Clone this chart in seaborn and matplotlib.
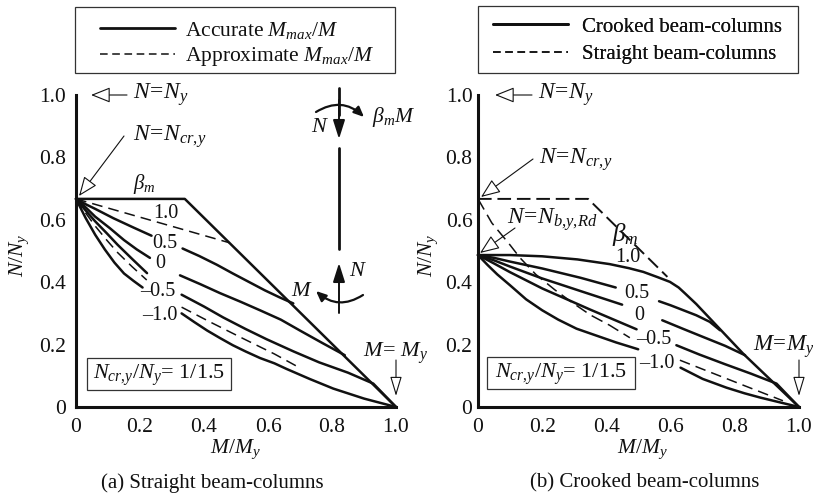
import matplotlib
matplotlib.use("Agg")
import matplotlib.pyplot as plt
from matplotlib.lines import Line2D
from matplotlib.patches import Rectangle
import seaborn as sns

sns.set_theme(style="white")
plt.rcParams.update({
    "font.family": ["Liberation Serif", "DejaVu Serif"],
    "mathtext.fontset": "custom",
    "mathtext.rm": "Liberation Serif",
    "mathtext.it": "Liberation Serif:italic",
    "mathtext.bf": "Liberation Serif:bold",
    "text.color": "#111111",
})

INK = "#111111"
W, H = 813, 497

# ---------- tick data ----------
x_ticks = [0, 0.2, 0.4, 0.6, 0.8, 1.0]
y_ticks = [0, 0.2, 0.4, 0.6, 0.8, 1.0]
tick_labels = ["0", "0.2", "0.4", "0.6", "0.8", "1.0"]

# ---------- panel (a) ----------
a_env_x = [0, 0.34, 1.0]
a_env_y = [0.667, 0.667, 0]
a_b10_x1 = [0, 0.03, 0.06, 0.117, 0.18, 0.236]
a_b10_y1 = [0.667, 0.65, 0.635, 0.605, 0.575, 0.549]
a_b10_x2 = [0.333, 0.385, 0.44, 0.49, 0.54, 0.59, 0.635, 0.679]
a_b10_y2 = [0.508, 0.484, 0.456, 0.428, 0.401, 0.374, 0.352, 0.332]
a_b05_x1 = [0, 0.03, 0.06, 0.106, 0.15, 0.19, 0.231]
a_b05_y1 = [0.667, 0.64, 0.61, 0.573, 0.535, 0.505, 0.478]
a_b05_x2 = [0.325, 0.39, 0.45, 0.515, 0.575, 0.64, 0.7, 0.77, 0.84]
a_b05_y2 = [0.422, 0.393, 0.365, 0.337, 0.31, 0.28, 0.245, 0.205, 0.166]
a_b00_x1 = [0, 0.03, 0.06, 0.096, 0.13, 0.175, 0.222]
a_b00_y1 = [0.667, 0.63, 0.595, 0.557, 0.52, 0.475, 0.429]
a_b00_x2 = [0.33, 0.40, 0.46, 0.53, 0.596, 0.68, 0.76, 0.85, 0.929, 1.0]
a_b00_y2 = [0.36, 0.322, 0.287, 0.25, 0.217, 0.178, 0.143, 0.11, 0.075, 0]
a_bm10_x1 = [0, 0.03, 0.06, 0.09, 0.12, 0.15, 0.18, 0.208]
a_bm10_y1 = [0.667, 0.606, 0.552, 0.505, 0.463, 0.428, 0.404, 0.383]
a_bm10_x2 = [0.33, 0.37, 0.41, 0.45, 0.49, 0.53, 0.575, 0.62, 0.658, 0.73, 0.804, 0.9, 1.0]
a_bm10_y2 = [0.30, 0.272, 0.245, 0.221, 0.198, 0.178, 0.157, 0.14, 0.122, 0.09, 0.059, 0.027, 0]
a_app1_x = [0, 0.481]
a_app1_y = [0.667, 0.526]
a_app2_x1 = [0, 0.03, 0.06, 0.096, 0.13, 0.175, 0.221]
a_app2_y1 = [0.667, 0.622, 0.58, 0.535, 0.495, 0.45, 0.407]
a_app2_x2 = [0.33, 0.42, 0.523, 0.62, 0.70]
a_app2_y2 = [0.32, 0.272, 0.219, 0.17, 0.125]

# ---------- panel (b) ----------
b_env_x1 = [0, 0.343, 0.59]
b_env_y1 = [0.667, 0.667, 0.417]
b_s1_x = [0, 0.043, 0.1, 0.131, 0.18, 0.24, 0.296, 0.35, 0.41, 0.473]
b_s1_y = [0.667, 0.59, 0.519, 0.478, 0.425, 0.375, 0.333, 0.295, 0.262, 0.222]
b_s2_x = [0.629, 0.72, 0.826, 0.95]
b_s2_y = [0.15, 0.113, 0.07, 0.02]
b_c1_x = [0, 0.1, 0.2, 0.31, 0.41, 0.47, 0.515, 0.56, 0.598, 0.625, 0.645, 0.68, 0.826, 1.0]
b_c1_y = [0.487, 0.487, 0.483, 0.473, 0.458, 0.445, 0.433, 0.416, 0.401, 0.383, 0.364, 0.33, 0.171, 0]
b_c2_x1 = [0, 0.05, 0.1, 0.2, 0.32, 0.429]
b_c2_y1 = [0.487, 0.478, 0.466, 0.444, 0.414, 0.383]
b_c2_x2 = [0.564, 0.6, 0.64, 0.68, 0.722, 0.754]
b_c2_y2 = [0.339, 0.326, 0.31, 0.294, 0.273, 0.246]
b_c3_x1 = [0, 0.05, 0.1, 0.2, 0.33, 0.449]
b_c3_y1 = [0.487, 0.47, 0.45, 0.412, 0.368, 0.328]
b_c3_x2 = [0.574, 0.64, 0.70, 0.77, 0.832]
b_c3_y2 = [0.278, 0.25, 0.225, 0.196, 0.166]
b_c4_x1 = [0, 0.05, 0.1, 0.2, 0.35, 0.494]
b_c4_y1 = [0.487, 0.46, 0.432, 0.38, 0.312, 0.249]
b_c4_x2 = [0.618, 0.69, 0.77, 0.85, 0.93, 1.0]
b_c4_y2 = [0.198, 0.168, 0.137, 0.107, 0.075, 0]
b_c5_x1 = [0, 0.03, 0.06, 0.1, 0.15, 0.2, 0.25, 0.307, 0.36, 0.43, 0.499]
b_c5_y1 = [0.487, 0.455, 0.425, 0.39, 0.345, 0.31, 0.28, 0.251, 0.232, 0.207, 0.185]
b_c5_x2 = [0.631, 0.7, 0.774, 0.83, 0.88, 0.94, 1.0]
b_c5_y2 = [0.126, 0.09, 0.062, 0.044, 0.03, 0.015, 0]

fig = plt.figure(figsize=(W / 100, H / 100), dpi=100, facecolor="white")


def make_axes(x0, x1, pad):
    ax = fig.add_axes([x0 / W, 1 - 407 / H, (x1 - x0) / W, 312 / H])
    ax.set_xlim(0, 1)
    ax.set_ylim(0, 1)
    ax.patch.set_alpha(0)
    sns.despine(ax=ax)
    for s in ("left", "bottom"):
        ax.spines[s].set_linewidth(2.2)
        ax.spines[s].set_color(INK)
        ax.spines[s].set_capstyle("projecting")
    ax.set_xticks(x_ticks, tick_labels, fontsize=15.5, color=INK)
    ax.set_yticks(y_ticks, tick_labels, fontsize=15.5, color=INK)
    ax.tick_params(axis="x", direction="in", length=6, width=0.8, pad=8, color=INK)
    ax.tick_params(axis="y", direction="in", length=7, width=0.8, pad=pad, color=INK)
    return ax


def draw(ax, x, y, lw=1.8, ls="-"):
    return sns.lineplot(x=x, y=y, sort=False, estimator=None, ax=ax, color=INK,
                        linewidth=lw, linestyle=ls, clip_on=False,
                        solid_joinstyle="round")


ax_a = make_axes(76, 396, 7)
ax_b = make_axes(478, 799, 4)

for xs, ys in [(a_env_x, a_env_y), (a_b10_x1, a_b10_y1), (a_b10_x2, a_b10_y2),
               (a_b05_x1, a_b05_y1), (a_b05_x2, a_b05_y2),
               (a_b00_x1, a_b00_y1), (a_b00_x2, a_b00_y2),
               (a_bm10_x1, a_bm10_y1), (a_bm10_x2, a_bm10_y2)]:
    draw(ax_a, xs, ys)
for xs, ys in [(a_app1_x, a_app1_y), (a_app2_x1, a_app2_y1), (a_app2_x2, a_app2_y2)]:
    draw(ax_a, xs, ys, lw=1.1, ls=(0, (7, 4)))

for xs, ys in [(b_c1_x, b_c1_y), (b_c2_x1, b_c2_y1), (b_c2_x2, b_c2_y2),
               (b_c3_x1, b_c3_y1), (b_c3_x2, b_c3_y2),
               (b_c4_x1, b_c4_y1), (b_c4_x2, b_c4_y2),
               (b_c5_x1, b_c5_y1), (b_c5_x2, b_c5_y2)]:
    draw(ax_b, xs, ys)
draw(ax_b, b_env_x1, b_env_y1, lw=1.4, ls=(0, (7, 3)))
draw(ax_b, b_s1_x, b_s1_y, lw=1.1, ls=(0, (8, 4)))
draw(ax_b, b_s2_x, b_s2_y, lw=1.1, ls=(0, (7, 4)))

# ---------- overlay in pixel coordinates for annotations ----------
ov = fig.add_axes([0, 0, 1, 1], zorder=5)
ov.set_xlim(0, W)
ov.set_ylim(H, 0)
ov.axis("off")
ov.patch.set_alpha(0)


def label(x, y, s, size=15, ha="left", rot=0):
    ov.text(x, y, s, fontsize=size, ha=ha, va="center", rotation=rot, color=INK)


def hollow(x0, y0, x1, y1, hl=1.0, hw=0.4):
    ov.annotate("", xy=(x1, y1), xytext=(x0, y0),
                arrowprops=dict(arrowstyle=f"-|>,head_length={hl},head_width={hw}",
                                fc="white", ec=INK, lw=0.8, shrinkA=0, shrinkB=0))


def solid(x0, y0, x1, y1, rad=0.0, lw=2.0, hl=0.7, hw=0.3):
    ov.annotate("", xy=(x1, y1), xytext=(x0, y0),
                arrowprops=dict(arrowstyle=f"-|>,head_length={hl},head_width={hw}",
                                fc=INK, ec=INK, lw=lw, shrinkA=0, shrinkB=0,
                                connectionstyle=f"arc3,rad={rad}"))


def box(x0, y0, x1, y1, lw=0.9):
    ov.add_patch(Rectangle((x0, y0), x1 - x0, y1 - y0, fc="none", ec="#333333", lw=lw))


def legend(x, y, entries, size, textpad, spacing):
    handles = [Line2D([], [], color=INK, lw=lw, ls=ls) for _, lw, ls in entries]
    leg = ov.legend(handles, [e[0] for e in entries], loc="upper left",
                    bbox_to_anchor=(x, y), bbox_transform=ov.transData,
                    frameon=False, fontsize=size, borderpad=0, borderaxespad=0,
                    handlelength=54 / size, handletextpad=textpad, labelspacing=spacing)
    for t in leg.get_texts():
        t.set_color(INK)
    ov.add_artist(leg)
    return leg


# panel (a) annotations
box(75, 7, 395, 73)
legend(100, 20, [(r"Accurate $M_{max}/M$", 2.0, "-"),
                 (r"Approximate $M_{max}/M$", 1.1, (0, (5, 3)))], 15.5, 0.45, 0.2)
label(133, 95, r"$N\!=\!N_y$", 17)
hollow(127, 95, 91, 95)
label(133, 137, r"$N\!=\!N_{cr{,}y}$", 17)
hollow(124, 136, 79, 196)
label(133, 184, r"$\beta_m$", 15)
for x, y, s in [(166, 214, "1.0"), (165, 243, "0.5"), (160, 263, "0"),
                (158, 292, "\u20130.5"), (160, 316, "\u20131.0")]:
    label(x, y, s, 14.5, ha="center")
ov.plot([339, 339], [88, 115], color=INK, lw=2.0)
solid(339, 100, 339, 139, lw=1.4, hl=0.95, hw=0.3)
ov.plot([339, 339], [148, 249], color=INK, lw=2.0)
solid(339, 313, 339, 263, lw=1.4, hl=0.95, hw=0.3)
solid(316, 112, 364, 117, rad=-0.38, lw=1.6, hl=0.5, hw=0.22)
solid(363, 295, 316, 291, rad=-0.38, lw=1.6, hl=0.5, hw=0.22)
label(320, 128, r"$N$", 16, ha="center")
label(372, 117, r"$\beta_m M$", 15.5)
label(349, 272, r"$N$", 16)
label(302, 292, r"$M$", 16, ha="center")
label(363, 353, r"$M\!=\,M_y$", 16)
hollow(396, 360, 396, 396, hl=1.0, hw=0.3)
box(87, 358, 231, 390)
label(159, 375, r"$N_{cr{,}y}/N_y$= 1/1.5", 16, ha="center")
label(235, 449, r"$M/M_y$", 15.5, ha="center")
label(212, 483, "(a) Straight beam-columns", 15, ha="center")
label(19, 255, r"$N/N_y$", 15.5, ha="center", rot=90)

# panel (b) annotations
box(478, 6, 798, 73)
legend(493, 17, [("Crooked beam-columns", 2.0, "-"),
                 ("Straight beam-columns", 1.1, (0, (5, 3)))], 15, 0.65, 0.4)
label(538, 95, r"$N\!=\!N_y$", 17)
hollow(532, 95, 495, 95)
label(539, 160, r"$N\!=\!N_{cr{,}y}$", 17)
hollow(533, 159, 481, 197)
label(507, 220, r"$N\!=\!N_{b{,}y{,}Rd}$", 17)
hollow(515, 228, 480, 253)
label(612, 235, r"$\beta_m$", 18)
for x, y, s in [(628, 258, "1.0"), (637, 293, "0.5"), (639, 315, "0"),
                (654, 339, "\u20130.5"), (657, 363, "\u20131.0")]:
    label(x, y, s, 14.5, ha="center")
label(753, 347, r"$M\!=\!M_y$", 16.5)
hollow(799, 360, 799, 396, hl=1.0, hw=0.3)
box(487, 357, 635, 389)
label(561, 374, r"$N_{cr{,}y}/N_y$= 1/1.5", 16, ha="center")
label(642, 449, r"$M/M_y$", 15.5, ha="center")
label(645, 483, "(b) Crooked beam-columns", 15, ha="center")
label(428, 255, r"$N/N_y$", 15.5, ha="center", rot=90)

fig.savefig("out.png", dpi=100)
